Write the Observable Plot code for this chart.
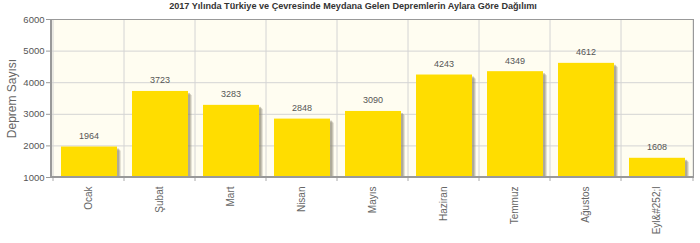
<!DOCTYPE html>
<html>
<head>
<meta charset="utf-8">
<script src="https://cdn.jsdelivr.net/npm/d3@7"></script>
<script src="https://cdn.jsdelivr.net/npm/@observablehq/plot@0.6"></script>
<style>
  body { margin: 0; background: #fff; }
  #wrap { position: relative; width: 700px; height: 243px; }
  #title { position: absolute; top: 1px; left: 0; width: 706px; text-align: center;
           font: bold 9.1px "Liberation Sans", Arial, sans-serif; color: #333; z-index: 2; }
</style>
</head>
<body>
<div id="wrap"><div id="title">2017 Yılında Türkiye ve Çevresinde Meydana Gelen Depremlerin Aylara Göre Dağılımı</div></div>
<script>
const months = ["Ocak", "Şubat", "Mart", "Nisan", "Mayıs", "Haziran", "Temmuz", "Ağustos", "Eyl&#252;l"];
const counts = [1964, 3723, 3283, 2848, 3090, 4243, 4349, 4612, 1608];
const yTicks = [1000, 2000, 3000, 4000, 5000, 6000];
const yLabel = "Deprem Sayısı";

const data = months.map((m, i) => ({month: m, value: counts[i]}));

// band boundary grid lines + small ticks below the axis
function bandGrid(index, scales, values, dims) {
  const g = d3.create("svg:g");
  const bottom = dims.height - dims.marginBottom;
  const bounds = months.map(m => scales.x(m));
  bounds.push(dims.width - dims.marginRight);
  for (const bx of bounds) {
    g.append("line").attr("x1", bx).attr("x2", bx)
      .attr("y1", dims.marginTop).attr("y2", bottom)
      .attr("stroke", "#d4d4d4").attr("stroke-width", 1);
    g.append("line").attr("x1", bx).attr("x2", bx)
      .attr("y1", bottom).attr("y2", bottom + 4)
      .attr("stroke", "#aaa").attr("stroke-width", 1);
  }
  return g.node();
}

// thicker left and bottom axis lines
function axisLines(index, scales, values, dims) {
  const g = d3.create("svg:g");
  const left = dims.marginLeft, bottom = dims.height - dims.marginBottom;
  g.append("line").attr("x1", left).attr("x2", left)
    .attr("y1", dims.marginTop).attr("y2", bottom + 1)
    .attr("stroke", "#999").attr("stroke-width", 2);
  g.append("line").attr("x1", left).attr("x2", dims.width - dims.marginRight)
    .attr("y1", bottom).attr("y2", bottom)
    .attr("stroke", "#999").attr("stroke-width", 2);
  return g.node();
}

const barOpts = {x: "month", y1: 1000, y2: "value", insetLeft: 8, insetRight: 7};

const chart = Plot.plot({
  width: 700,
  height: 243,
  marginTop: 19,
  marginBottom: 66,
  marginLeft: 51,
  marginRight: 7,
  style: {fontFamily: "'Liberation Sans', Arial, sans-serif", fontSize: "10px", color: "#666", background: "transparent"},
  x: {domain: months, padding: 0, label: null},
  y: {domain: [1000, 6000], ticks: yTicks, label: null},
  marks: [
    Plot.frame({fill: "#fffdf1", stroke: null}),
    Plot.ruleY(yTicks, {stroke: "#d4d4d4"}),
    Plot.frame({stroke: null, fill: null, render: bandGrid}),
    // soft shadows
    Plot.barY(data, {...barOpts, dx: 4, dy: 4, fill: "#8a8470", fillOpacity: 0.22, clip: "frame"}),
    Plot.barY(data, {...barOpts, dx: 3, dy: 3, fill: "#8a8470", fillOpacity: 0.32, clip: "frame"}),
    Plot.barY(data, {...barOpts, dx: 2, dy: 2, fill: "#8a8470", fillOpacity: 0.4, clip: "frame"}),
    Plot.barY(data, {...barOpts, fill: "#ffdd00"}),
    Plot.text(data, {x: "month", y: "value", text: d => String(d.value), dy: -11, fontSize: 9, fill: "#555"}),
    Plot.frame({stroke: "#999", strokeWidth: 1}),
    Plot.frame({stroke: null, fill: null, render: axisLines}),
    Plot.axisY({ticks: yTicks, tickSize: 5, tickPadding: 2, fontSize: 9.5, stroke: "#999", fill: "#555", tickFormat: d => String(d), label: null}),
    Plot.axisX({tickSize: 0, tickPadding: 9, tickRotate: -90, fontSize: 10, fill: "#666", label: null}),
    Plot.text([yLabel], {frameAnchor: "left", dx: -39, rotate: -90, textAnchor: "middle", fontSize: 12, fill: "#666"})
  ]
});

document.getElementById("wrap").prepend(chart);
chart.style.position = "absolute";
chart.style.left = "0";
chart.style.top = "0";
</script>
</body>
</html>
